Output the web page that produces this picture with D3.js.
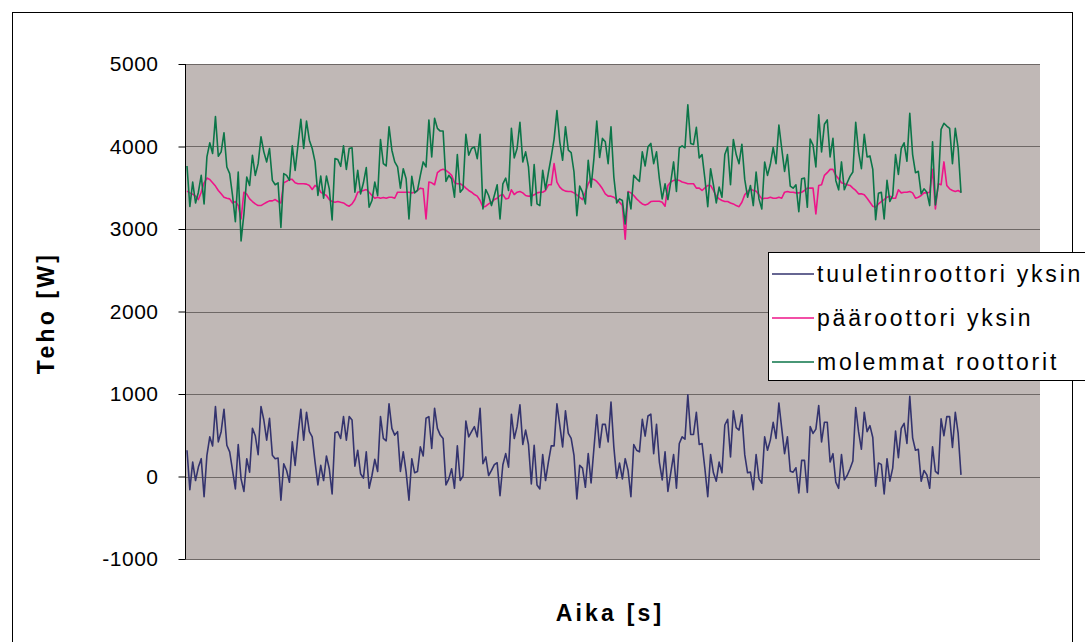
<!DOCTYPE html>
<html>
<head>
<meta charset="utf-8">
<script src="https://cdn.jsdelivr.net/npm/d3@7"></script>
<style>
  body { margin: 0; background: #fff; }
  svg { display: block; font-family: "Liberation Sans", Arial, sans-serif; }
</style>
</head>
<body>
<svg id="chart" width="1085" height="642"></svg>
<script>
// values, one point every ~3 px
const tuuletin = [
  318,-159,175,-49,114,216,-245,257,481,371,849,420,543,816,379,298,73,-151,388,-29,-180,216,53,583,494,265,849,685,441,706,257,216,224,-286,155,73,-69,420,135,502,816,441,779,543,481,
  175,-102,135,-49,249,94,-212,530,543,461,726,441,726,685,126,318,33,-20,298,-143,12,208,61,726,461,432,881,583,502,543,61,298,53,-286,216,45,61,359,249,706,726,339,828,583,502,
  461,-102,-29,94,-143,371,-49,4,673,481,543,604,481,828,155,237,12,73,143,167,-233,143,277,114,755,461,604,869,388,563,388,-90,379,-102,-151,265,-49,175,371,371,881,624,359,796,522,461,
  257,-273,135,102,-131,277,-78,339,747,351,632,632,420,902,359,-20,163,-29,216,73,-245,388,318,298,694,490,734,755,277,632,175,-41,298,-180,45,265,-143,400,481,453,991,510,510,779,388,400,
  94,-245,265,45,-57,175,45,624,694,237,796,592,563,747,265,45,53,-159,265,-29,-82,481,318,441,657,461,889,583,277,481,65,53,106,-200,196,196,-192,604,522,575,861,420,657,657,175,277,
  -69,-143,265,-41,12,94,188,836,543,330,779,543,616,473,-118,163,147,-212,216,-57,102,551,228,583,645,400,971,469,318,330,-57,73,20,-143,359,61,33,698,494,726,726,351,779,522,20
];
const paaroottori = [
  3459,3438,3422,3398,3357,3446,3560,3617,3601,3560,3520,3467,3426,3385,3373,3365,3316,3333,3284,3121,3446,3422,3365,3333,3304,3284,3284,3304,3324,3341,3341,3357,3333,3316,3560,3577,3601,3601,3560,3548,3548,3548,3544,3528,3479,
  3528,3508,3446,3426,3406,3357,3333,3324,3333,3324,3316,3292,3276,3304,3357,3446,3455,3467,3479,3446,3406,3373,3385,3373,3381,3373,3385,3385,3373,3446,3446,3446,3446,3446,3438,3446,3467,3495,3487,3121,3569,3560,3536,3683,3711,
  3723,3711,3683,3650,3560,3548,3548,3528,3495,3467,3446,3418,3398,3345,3263,3276,3304,3324,3357,3373,3406,3418,3365,3373,3475,3418,3446,3455,3438,3406,3398,3398,3414,3438,3446,3446,3467,3536,3536,3792,3569,3508,3475,3459,3455,3455,
  3438,3414,3385,3357,3446,3548,3609,3601,3577,3536,3487,3426,3398,3398,3385,3357,3324,3284,2877,3455,3438,3406,3365,3333,3304,3292,3304,3333,3337,3337,3337,3324,3276,3528,3569,3589,3601,3589,3569,3560,3548,3548,3548,3495,3495,3467,
  3499,3528,3528,3467,3398,3365,3345,3333,3333,3316,3304,3284,3271,3324,3414,3455,3487,3467,3459,3414,3365,3373,3373,3385,3373,3373,3385,3373,3446,3455,3446,3446,3438,3438,3446,3467,3495,3495,3495,3182,3528,3536,3650,3683,3723,3723,
  3650,3609,3560,3548,3536,3528,3495,3467,3426,3426,3414,3373,3324,3276,3263,3304,3333,3357,3385,3398,3373,3373,3475,3438,3446,3446,3455,3438,3373,3385,3406,3438,3438,3446,3723,3243,3548,3536,3813,3528,3487,3467,3455,3467,3446
];
const molemmat = [
  3764,3272,3569,3316,3446,3650,3304,3874,4045,3915,4362,3882,3935,4167,3752,3671,3406,3089,3691,2856,3182,3630,3528,3894,3650,3792,4118,3935,3813,3976,3589,3536,3560,3019,3671,3650,3589,4008,3711,4016,4330,3976,4309,4077,3976,
  3813,3406,3642,3373,3642,3487,3109,3853,3841,3760,4008,3723,3976,3984,3446,3711,3426,3560,3744,3263,3345,3569,3406,4085,3792,3764,4240,3955,3813,3752,3495,3731,3609,3121,3638,3438,3467,3650,3813,3752,4322,3874,4342,4220,4187,
  4187,3577,3650,3609,3385,3902,3446,3487,4147,3894,3976,3996,3853,4147,3243,3479,3406,3284,3406,3536,3121,3548,3617,3467,4220,3862,3976,4293,3813,3935,3752,3284,3780,3304,3284,3711,3479,3683,3874,4090,4435,4057,3833,4240,3955,3927,
  3691,3162,3520,3446,3304,3833,3508,3853,4309,3866,4098,4057,3792,4240,3630,3316,3365,3345,3060,3446,3243,3650,3609,3577,3935,3764,3996,4037,3792,3935,3609,3365,3548,3357,3569,3813,3455,3984,4008,3984,4505,4037,4024,4232,3862,3902,
  3609,3271,3731,3536,3316,3508,3385,3902,3996,3536,4085,3902,3792,4028,3601,3385,3528,3284,3691,3365,3243,3813,3650,3784,3988,3792,4260,3976,3699,3902,3520,3495,3536,3210,3609,3617,3263,4090,4016,3752,4383,3935,4269,4322,3874,4098,
  3589,3475,3813,3475,3560,3638,3691,4293,3935,3731,4147,3874,3886,3723,3113,3434,3446,3121,3589,3333,3406,3902,3662,3976,4045,3821,4403,3902,3683,3699,3426,3487,3446,3284,4057,3292,3528,4208,4281,4248,4220,3792,4220,3976,3438
];
const seriesNames = ["tuuletinroottori yksin", "pääroottori yksin", "molemmat roottorit"];
const seriesColors = ["#33336e", "#ee1489", "#0b7548"];
const yTicks = [-1000, 0, 1000, 2000, 3000, 4000, 5000];

const svg = d3.select("#chart");

// outer chart frame
svg.append("rect")
  .attr("x", 12.5).attr("y", 12.5)
  .attr("width", 1060).attr("height", 640)
  .attr("fill", "#fff").attr("stroke", "#000");

const plot = {left: 185, right: 1040, top: 64, bottom: 559};

const y = d3.scaleLinear().domain([-1000, 5000]).range([plot.bottom, plot.top]);
const n = tuuletin.length;
const x = d3.scaleLinear().domain([0, n - 1]).range([187, 961]);

svg.append("rect")
  .attr("x", plot.left).attr("y", plot.top)
  .attr("width", plot.right - plot.left).attr("height", plot.bottom - plot.top)
  .attr("fill", "#c0b8b6");

// gridlines
svg.append("g").selectAll("line").data(yTicks.slice(1)).join("line")
  .attr("x1", plot.left).attr("x2", plot.right)
  .attr("y1", d => Math.round(y(d)) + 0.5).attr("y2", d => Math.round(y(d)) + 0.5)
  .attr("stroke", "#6e6866").attr("stroke-width", 1.2);

// bottom edge of plot
svg.append("line")
  .attr("x1", plot.left).attr("x2", plot.right)
  .attr("y1", plot.bottom + 0.5).attr("y2", plot.bottom + 0.5)
  .attr("stroke", "#6e6866").attr("stroke-width", 1.2);

// y axis
const yAxis = d3.axisLeft(y).tickValues(yTicks).tickSize(7).tickPadding(20).tickFormat(d => String(d));
const yAxisG = svg.append("g")
  .attr("transform", "translate(" + (plot.left + 0.5) + ",0)")
  .call(yAxis);
yAxisG.select(".domain").attr("stroke", "#000").attr("d", "M0," + plot.top + "V" + plot.bottom);
yAxisG.selectAll(".tick line").attr("stroke", "#000");
yAxisG.selectAll("text")
  .attr("fill", "#000")
  .style("font-size", "21px")
  .style("letter-spacing", "0.5px")
  .style("font-family", "Liberation Sans, Arial, sans-serif");

// axis titles
svg.append("text")
  .attr("x", 610).attr("y", 621)
  .attr("text-anchor", "middle")
  .style("font-size", "23px").style("font-weight", "bold")
  .style("letter-spacing", "3.2px")
  .text("Aika [s]");

svg.append("text")
  .attr("transform", "translate(54,313) rotate(-90)")
  .attr("text-anchor", "middle")
  .style("font-size", "23px").style("font-weight", "bold")
  .style("letter-spacing", "3.2px")
  .text("Teho [W]");

// lines
const line = d3.line().x((d, i) => x(i)).y(d => y(d));
[tuuletin, paaroottori, molemmat].forEach(function(data, k) {
  svg.append("path")
    .datum(data)
    .attr("d", line)
    .attr("fill", "none")
    .attr("stroke", seriesColors[k])
    .attr("stroke-width", 1.6)
    .attr("stroke-linejoin", "round");
});

// legend
const legend = svg.append("g").attr("transform", "translate(768,252)");
legend.append("rect")
  .attr("x", 0.5).attr("y", 0.5)
  .attr("width", 340).attr("height", 128)
  .attr("fill", "#fff").attr("stroke", "#000");

const rows = legend.selectAll(".row").data(seriesNames).join("g")
  .attr("class", "row")
  .attr("transform", (d, i) => "translate(0," + (22 + i * 44) + ")");
rows.append("line")
  .attr("x1", 4).attr("x2", 46)
  .attr("stroke", (d, i) => seriesColors[i]).attr("stroke-width", 1.6);
rows.append("text")
  .attr("x", 49).attr("y", 8)
  .style("font-size", "23px")
  .style("letter-spacing", "2.8px")
  .text(d => d);
</script>
</body>
</html>
